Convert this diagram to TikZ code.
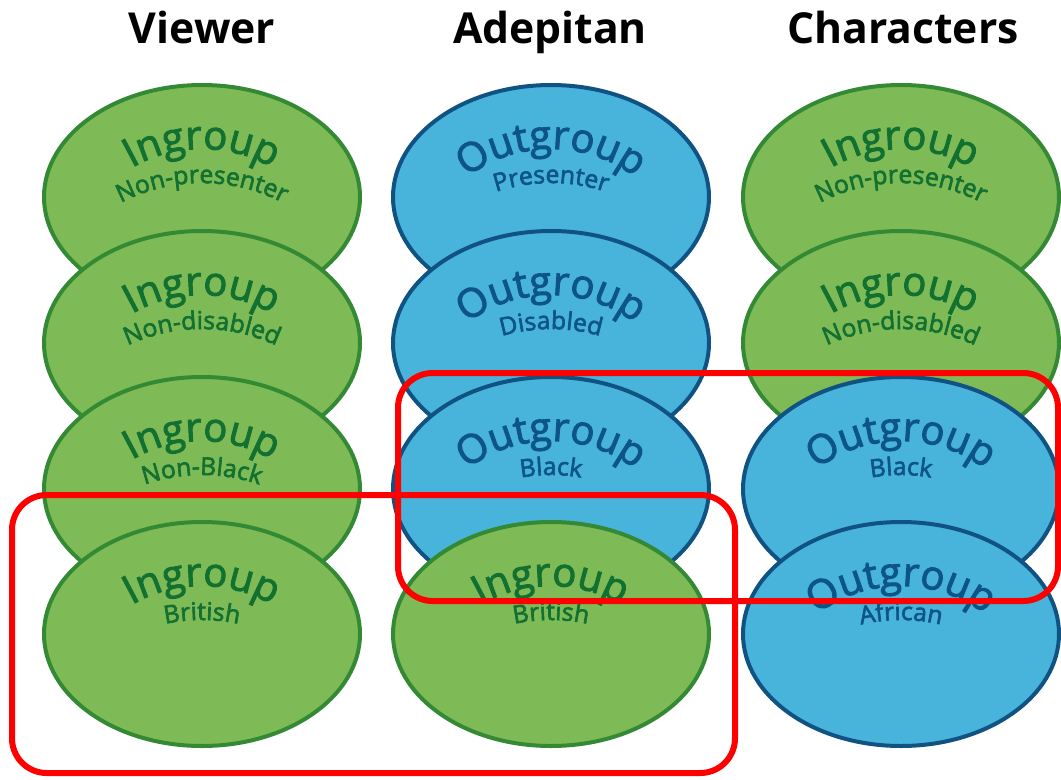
\documentclass[tikz,border=0pt]{standalone}
\usepackage{fontspec}
\setmainfont{Open Sans}
\newfontfamily\labelfont[FakeBold=2.5]{Open Sans}
\usetikzlibrary{shapes.geometric,decorations.text}
\definecolor{ingfill}{RGB}{126,187,87}
\definecolor{ingdraw}{RGB}{52,138,52}
\definecolor{ingtext}{RGB}{18,112,48}
\definecolor{outfill}{RGB}{72,180,219}
\definecolor{outdraw}{RGB}{16,82,130}
\definecolor{outtext}{RGB}{14,85,135}
\tikzstyle{ingroup}=[ellipse,fill=ingfill,draw=ingdraw,line width=3pt,minimum width=237pt,minimum height=168pt,inner sep=0pt]
\tikzstyle{outgroup}=[ellipse,fill=outfill,draw=outdraw,line width=3pt,minimum width=237pt,minimum height=168pt,inner sep=0pt]
\tikzstyle{heading}=[anchor=base,inner sep=0pt,font=\fontsize{32}{32}\selectfont\bfseries]
\tikzstyle{redbox}=[draw=red,line width=4.5pt,rounded corners=26pt]
% curved label: node, lift of baseline, radius, format, text
\newcommand{\arctext}[5]{%
  \path[decorate,decoration={text along path,text align=center,text={|#4|#5}}]
    (#1.center) ++(0,{#2-#3}) ++(140:#3) arc[start angle=140,end angle=40,radius=#3];}

\begin{document}
\begin{tikzpicture}[x=0.75pt,y=0.75pt]
    \useasboundingbox (0,0) rectangle (1061,-779);
    \node[heading] (viewer) at (202,-43) {Viewer};
    \node[heading] (adepitan) at (550,-43) {Adepitan};
    \node[heading] (characters) at (903,-43) {Characters};

    \node[ingroup] (v1) at (202,-197) {};
    \node[ingroup] (v2) at (202,-343) {};
    \node[ingroup] (v3) at (202,-489) {};
    \node[ingroup] (v4) at (202,-634) {};

    \node[outgroup] (a1) at (551,-197) {};
    \node[outgroup] (a2) at (551,-343) {};
    \node[outgroup] (a3) at (551,-489) {};
    \node[ingroup] (a4) at (551,-634) {};

    \node[ingroup] (c1) at (901,-197) {};
    \node[ingroup] (c2) at (901,-343) {};
    \node[outgroup] (c3) at (901,-489) {};
    \node[outgroup] (c4) at (901,-634) {};

    \foreach \n/\main/\sub/\tc in {v1/Ingroup/Non-presenter/ingtext,v2/Ingroup/Non-disabled/ingtext,
        v3/Ingroup/Non-Black/ingtext,v4/Ingroup/British/ingtext,
        a1/Outgroup/Presenter/outtext,a2/Outgroup/Disabled/outtext,
        a3/Outgroup/Black/outtext,a4/Ingroup/British/ingtext,
        c1/Ingroup/Non-presenter/ingtext,c2/Ingroup/Non-disabled/ingtext,
        c3/Outgroup/Black/outtext,c4/Outgroup/African/outtext}
    {
    \arctext{\n}{48}{140}{\color{\tc}\labelfont\fontsize{30}{30}\selectfont}{\main}
    \arctext{\n}{14}{175}{\color{\tc}\labelfont\fontsize{18.5}{18.5}\selectfont}{\sub}
    }

    \draw[redbox] (398,-373) rectangle (1058,-601);
    \draw[redbox] (12,-495) rectangle (735,-773);
\end{tikzpicture}
\end{document}
